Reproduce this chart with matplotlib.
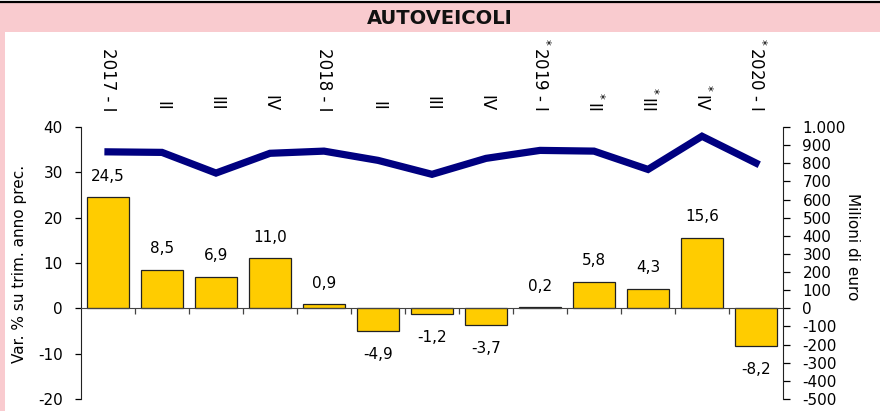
import numpy as np
import matplotlib
matplotlib.use("Agg")
import matplotlib.pyplot as plt
from matplotlib.patches import Rectangle
from matplotlib.lines import Line2D

# data
categories = ["2017 - I", "II", "III", "IV", "2018 - I", "II", "III", "IV",
              "$^*$2019 - I", "$^*$II", "$^*$III", "$^*$IV", "$^*$2020 - I"]
var_pct = [24.5, 8.5, 6.9, 11.0, 0.9, -4.9, -1.2, -3.7, 0.2, 5.8, 4.3, 15.6, -8.2]
mln_euro = [863, 860, 746, 855, 867, 816, 739, 827, 871, 867, 766, 949, 801]

left_ticks = [40, 30, 20, 10, 0, -10, -20]
right_ticks = list(range(-500, 1001, 100))

pink = "#F9CBCF"
bar_col = "#FFCC00"
line_col = "#000080"

plt.rcParams["font.family"] = "DejaVu Sans"
plt.rcParams["font.size"] = 11
plt.rcParams["axes.unicode_minus"] = False

W, H = 880, 411
fig = plt.figure(figsize=(W / 100, H / 100), dpi=100, facecolor="white")

# frame: pink title band, thin pink strip on the left, black top rule
fig.patches.append(Rectangle((0, 1 - 32 / H), 1, 29 / H, transform=fig.transFigure,
                             facecolor=pink, edgecolor="none", zorder=0))
fig.patches.append(Rectangle((0, 0), 5 / W, 1 - 32 / H, transform=fig.transFigure,
                             facecolor=pink, edgecolor="none", zorder=0))
fig.lines.append(Line2D([0, 1], [1 - 2 / H, 1 - 2 / H], transform=fig.transFigure,
                        color="black", lw=1.6))
fig.text(0.5, 1 - 19 / H, "AUTOVEICOLI", ha="center", va="center",
         fontsize=14, fontweight="bold", color="#111111")

ax = fig.add_axes([81 / W, 12 / H, 702 / W, 272 / H])
ax.set_facecolor("none")
x = np.arange(len(categories))

ax.bar(x, var_pct, width=0.76, color=bar_col, edgecolor="#222222", linewidth=0.9, zorder=2)
for xi, v in zip(x, var_pct):
    lab = f"{v:.1f}".replace(".", ",")
    ax.annotate(lab, (xi, v), xytext=(0, 15.3 if v >= 0 else -17),
                textcoords="offset points", ha="center", va="center", fontsize=11)

ax.set_xlim(-0.5, len(categories) - 0.5)
ax.set_ylim(-20, 40)
ax.set_yticks(left_ticks)
ax.tick_params(axis="y", direction="out", length=4, width=0.9, pad=9, labelsize=11)

# category labels on top, vertical
ax.set_xticks(x)
ax.set_xticklabels(categories)
ax.tick_params(axis="x", which="major", bottom=False, top=False,
               labelbottom=False, labeltop=True, pad=8, labelsize=12,
               labelrotation=270)
for tk in ax.xaxis.get_major_ticks():
    tk.label2.set_va("bottom")
    tk.label2.set_ha("center")
ax.set_xticks(x[:-1] + 0.5, minor=True)
ax.tick_params(axis="x", which="minor", bottom=True, direction="out",
               length=4, width=0.9, color="#444444")

ax.spines["bottom"].set_position(("data", 0))
ax.spines["bottom"].set_color("#444444")
ax.spines["left"].set_color("#222222")
ax.spines["top"].set_visible(False)
ax.spines["right"].set_visible(False)

ax2 = ax.twinx()
ax2.plot(x, mln_euro, color=line_col, lw=5.2, solid_joinstyle="miter", zorder=3)
ax2.set_ylim(-500, 1000)
ax2.set_yticks(right_ticks)
ax2.set_yticklabels([f"{v:,}".replace(",", ".") for v in right_ticks])
ax2.tick_params(axis="y", direction="out", length=5, width=0.9, pad=9, labelsize=11)
for s in ["top", "bottom", "left"]:
    ax2.spines[s].set_visible(False)
ax2.spines["right"].set_color("#222222")

fig.text(20 / W, 1 - 264 / H, "Var. % su trim. anno prec.", rotation=90,
         ha="center", va="center", fontsize=11)
fig.text(852 / W, 1 - 247 / H, "Milioni di euro", rotation=270,
         ha="center", va="center", fontsize=11)

fig.savefig("out.png", dpi=100, facecolor="white")
